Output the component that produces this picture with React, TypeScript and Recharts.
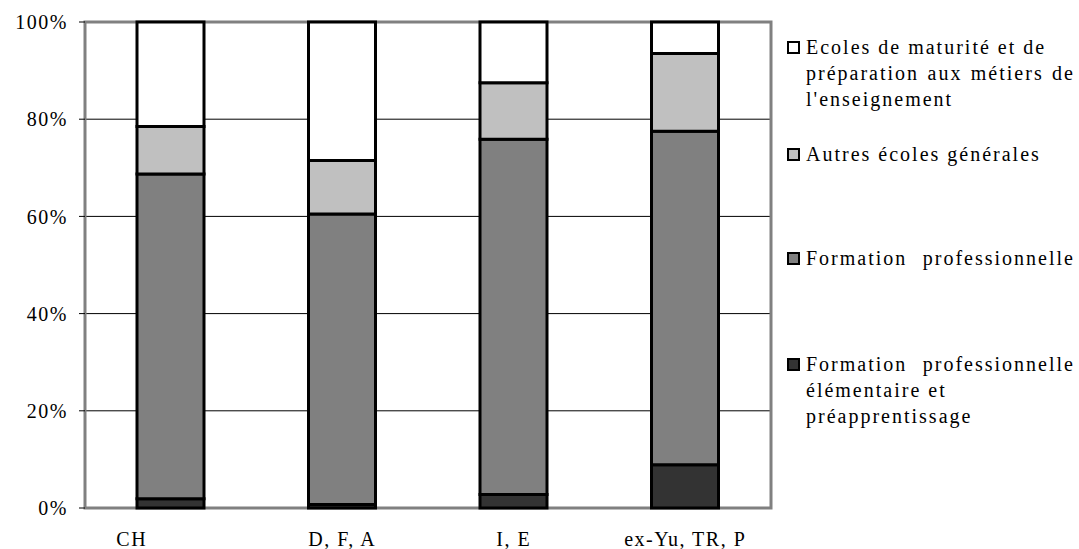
import React from 'react';
import {
  BarChart,
  Bar,
  XAxis,
  YAxis,
  CartesianGrid,
  ReferenceArea,
} from 'recharts';

// school types by nationality group, shares in %
const categories = ['CH', 'D, F, A', 'I, E', 'ex-Yu, TR, P'];
const elementaire = [1.9, 0.7, 2.8, 8.9];
const professionnelle = [66.8, 59.8, 73.1, 68.6];
const autresGenerales = [9.8, 11.0, 11.6, 16.0];
const maturite = [21.5, 28.5, 12.5, 6.5];
const yTicks = [0, 20, 40, 60, 80, 100];

const seriesNames = [
  'Formation professionnelle élémentaire et préapprentissage',
  'Formation professionnelle',
  'Autres écoles générales',
  "Ecoles de maturité et de préparation aux métiers de l'enseignement",
];

// legend text as it is broken in the original, top entry first
const legendLines = [
  ['Ecoles de maturité et de', 'préparation aux métiers de', "l'enseignement"],
  ['Autres écoles générales'],
  ['Formation professionnelle'],
  ['Formation professionnelle', 'élémentaire et', 'préapprentissage'],
];

const data = categories.map((name, i) => ({
  name,
  elementaire: elementaire[i],
  professionnelle: professionnelle[i],
  autres: autresGenerales[i],
  maturite: maturite[i],
}));

const FONT = "'Liberation Serif', 'DejaVu Serif', serif";
const colors = ['#333333', '#808080', '#c0c0c0', '#ffffff'];
const keys = ['elementaire', 'professionnelle', 'autres', 'maturite'];

const XTick = (props: any) => {
  const { x, y, payload, index } = props;
  const shift = index === 0 ? -39 : 0;
  return (
    <text
      x={x + shift}
      y={y + 38}
      textAnchor="middle"
      fill="#000"
      style={{ fontFamily: FONT, fontSize: 20, letterSpacing: 1.5 }}
    >
      {payload.value}
    </text>
  );
};

const Legendish = () => {
  const tops = [34, 141, 245, 351];
  // legend goes top-down: reverse of stacking order
  const order = [3, 2, 1, 0];
  return (
    <div style={{ position: 'absolute', left: 0, top: 0, fontFamily: FONT }}>
      {order.map((s, k) => (
        <div
          key={seriesNames[s]}
          style={{ position: 'absolute', left: 787, top: tops[k], width: 290 }}
        >
          <div
            style={{
              position: 'absolute',
              left: 0,
              top: 7,
              width: 9,
              height: 9,
              border: '2px solid #000',
              background: colors[s],
            }}
          />
          {legendLines[k].map((line, j) => (
            <div
              key={j}
              style={{
                marginLeft: 19,
                width: 269,
                height: 26,
                lineHeight: '26px',
                fontSize: 20,
                letterSpacing: 2,
                whiteSpace: 'nowrap',
                textAlign: 'justify',
                textAlignLast:
                  line.startsWith('préparation') || line === 'Formation professionnelle'
                    ? 'justify'
                    : 'left',
              }}
            >
              {line}
            </div>
          ))}
        </div>
      ))}
    </div>
  );
};

export default function App() {
  return (
    <div
      style={{
        position: 'absolute',
        left: 0,
        top: 0,
        width: 1079,
        height: 549,
        background: '#fff',
        fontFamily: FONT,
      }}
    >
      <BarChart
        width={1079}
        height={549}
        data={data}
        margin={{ top: 22, right: 308, bottom: 0, left: 0 }}
        style={{ fontFamily: FONT }}
      >
        <CartesianGrid vertical={false} stroke="#000" strokeWidth={1} />
        <XAxis
          dataKey="name"
          height={41}
          axisLine={false}
          tickLine={false}
          tickSize={0}
          tickMargin={0}
          interval={0}
          tick={<XTick />}
        />
        <YAxis
          width={85}
          domain={[0, 100]}
          ticks={yTicks}
          tickFormatter={(v) => `${v}%`}
          axisLine={false}
          tickLine={{ stroke: '#000' }}
          tickSize={6}
          tickMargin={11}
          tick={{ fill: '#000', fontSize: 20, style: { fontFamily: FONT, letterSpacing: 1.5 } }}
        />
        {keys.map((k, i) => (
          <Bar
            key={k}
            dataKey={k}
            name={seriesNames[i]}
            stackId="a"
            fill={colors[i]}
            stroke="#000"
            strokeWidth={3}
            barSize={67}
            isAnimationActive={false}
          />
        ))}
        <ReferenceArea
          y1={0}
          y2={100}
          fill="none"
          stroke="#808080"
          strokeWidth={3}
          ifOverflow="visible"
        />
      </BarChart>
      <Legendish />
    </div>
  );
}
